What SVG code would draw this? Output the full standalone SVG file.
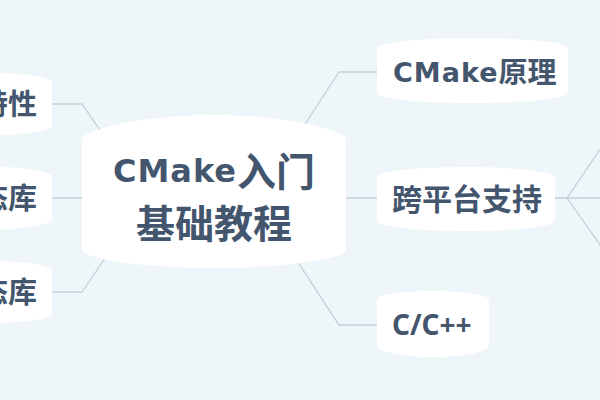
<svg xmlns="http://www.w3.org/2000/svg" width="600" height="400" viewBox="0 0 600 400">
<style>
.bg{fill:#eef6fa}
.node{fill:#ffffff}
.conn{fill:none;stroke:#c6d0da;stroke-width:1.3}
.t{fill:#44566e;font-weight:700;font-family:"Noto Sans CJK SC","Noto Sans",sans-serif}
.lat{font-family:"DejaVu Sans","Noto Sans",sans-serif}
.noto{font-family:"Noto Sans","Noto Sans CJK SC",sans-serif}
</style>
<rect class="bg" x="0" y="0" width="600" height="400"/>
<g id="connectors">
<path class="conn" d="M52,104 H82 L108,142"/>
<path class="conn" d="M52,198 H90"/>
<path class="conn" d="M52,292 H82 L108,254"/>
<path class="conn" d="M377,72 H339 L292,144"/>
<path class="conn" d="M340,198 H377"/>
<path class="conn" d="M377,325 H339 L292,253"/>
<path class="conn" d="M555,198 H567 L603,145 M567,198 H603 M567,198 L603,249"/>
</g>
<g id="node-center">
<path class="node" d="M82,250 V139 C82,132 134,115 214,115 C294,115 346,132 346,139 V250 C346,257 294,268 214,268 C134,268 82,257 82,250 Z"/>
<text class="t" x="214" y="182" text-anchor="middle"><tspan class="lat" font-size="32" letter-spacing="1">CMake</tspan><tspan dy="4" font-size="39">入门</tspan></text>
<text class="t" x="214" y="238" text-anchor="middle" font-size="39">基础教程</text>
</g>
<g id="node-principle">
<path class="node" d="M377,93 V48 C377,43 415.5,38 472.5,38 C529.5,38 568,43 568,48 V93 C568,98 529.5,103 472.5,103 C415.5,103 377,98 377,93 Z"/>
<text class="t" x="393" y="82"><tspan class="lat" font-size="27" letter-spacing="1">CMake</tspan><tspan dy="1" font-size="29">原理</tspan></text>
</g>
<g id="node-crossplatform">
<path class="node" d="M377,221 V177 C377,172 413,167 466,167 C519,167 555,172 555,177 V221 C555,226 519,231 466,231 C413,231 377,226 377,221 Z"/>
<text class="t" x="392" y="210" font-size="30">跨平台支持</text>
</g>
<g id="node-cpp">
<path class="node" d="M377,346 V300 C377,295 399,291 433,291 C467,291 489,295 489,300 V346 C489,351 467,357 433,357 C399,357 377,351 377,346 Z"/>
<text class="t noto" x="392" y="335" font-size="28">C/C++</text>
</g>
<g id="node-features">
<path class="node" d="M-110,126 V82 C-110,77 -78,72 -29,72 C20,72 52,77 52,82 V126 C52,131 20,136 -29,136 C-78,136 -110,131 -110,126 Z"/>
<text class="t" x="37" y="115" font-size="29" text-anchor="end">特性</text>
</g>
<g id="node-static">
<path class="node" d="M-110,220 V176 C-110,171 -78,166 -29,166 C20,166 52,171 52,176 V220 C52,225 20,230 -29,230 C-78,230 -110,225 -110,220 Z"/>
<text class="t" x="37" y="209" font-size="29" text-anchor="end">静态库</text>
</g>
<g id="node-dynamic">
<path class="node" d="M-110,314 V270 C-110,265 -78,260 -29,260 C20,260 52,265 52,270 V314 C52,319 20,324 -29,324 C-78,324 -110,319 -110,314 Z"/>
<text class="t" x="37" y="303" font-size="29" text-anchor="end">动态库</text>
</g>
</svg>
